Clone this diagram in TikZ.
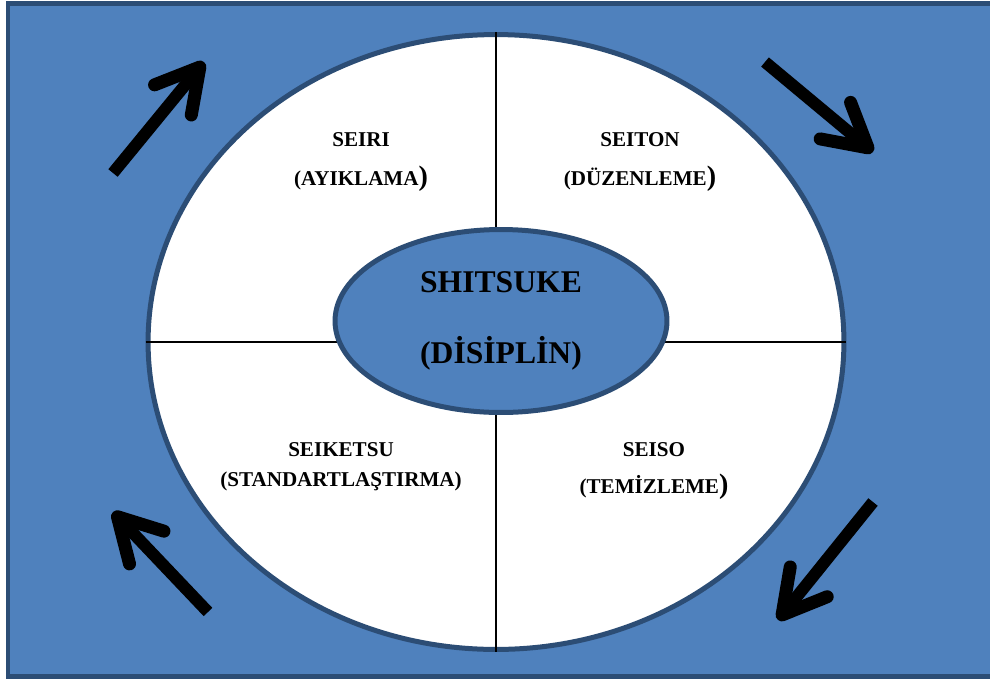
\documentclass[tikz,border=0pt]{standalone}
\usepackage{fontspec}
\setmainfont{Liberation Serif}
\usepackage{tikz}
\usetikzlibrary{arrows.meta, positioning, shapes.geometric}

\definecolor{boxblue}{HTML}{4F81BD}
\definecolor{rimblue}{HTML}{2C4D75}

\begin{document}
\begin{tikzpicture}[x=0.02cm,y=-0.02cm,
  rim/.style={draw=rimblue,line width=0.1cm},
  quad/.style={align=center,font=\bfseries\fontsize{12}{22}\selectfont},
  turn/.style={line width=0.24cm,-{Straight Barb[round,length=0.85cm,width=0.95cm,line width=0.26cm]}}]
\useasboundingbox (0,0) rectangle (990,680);
\clip (0,0) rectangle (990,680);
\draw[rim,fill=boxblue] (8,3) rectangle (1010,676);

\node (W) [ellipse,rim,fill=white,inner sep=0pt,minimum width=13.92cm,minimum height=12.3cm] at (496,342) {};
\path[draw,line width=0.05cm] (W.north) -- (W.south);
\path[draw,line width=0.05cm] (W.west) -- (W.east);
\node (S) [ellipse,rim,fill=boxblue,inner sep=0pt,minimum width=6.64cm,minimum height=3.66cm,
  align=center,font=\bfseries\fontsize{18}{40}\selectfont] at (501,321) {SHITSUKE\\(DİSİPLİN)};

\node (R) [quad] at (361,162) {SEIRI\\(AYIKLAMA{\fontsize{16}{16}\selectfont)}};
\node (T) [quad] at (640,162) {SEITON\\(DÜZENLEME{\fontsize{16}{16}\selectfont)}};
\node (K) [quad,font=\bfseries\fontsize{12}{17}\selectfont] at (341,467) {SEIKETSU\\(STANDARTLAŞTIRMA)};
\node (O) [quad,font=\bfseries\fontsize{12}{21}\selectfont] at (654,471) {SEISO\\(TEMİZLEME{\fontsize{16}{16}\selectfont)}};

\coordinate (t1) at (113,173);
\coordinate (h1) at (204,62);
\coordinate (t2) at (765,62);
\coordinate (h2) at (873,152);
\coordinate (t3) at (873,502);
\coordinate (h3) at (778,620);
\coordinate (t4) at (208,612);
\coordinate (h4) at (113,512);

\draw[turn] (t1) -- (h1);
\draw[turn] (t2) -- (h2);
\draw[turn] (t3) -- (h3);
\draw[turn] (t4) -- (h4);
\end{tikzpicture}
\end{document}
